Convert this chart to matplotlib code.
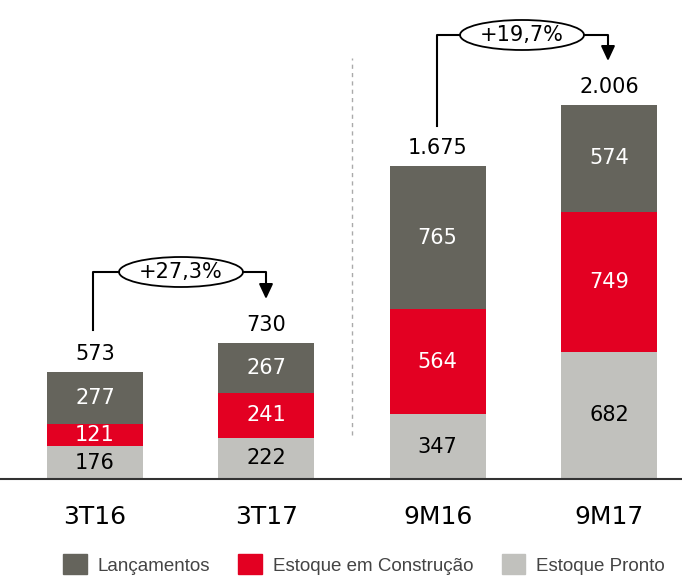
import matplotlib
matplotlib.use("Agg")
import matplotlib.pyplot as plt
from matplotlib.patches import Ellipse, Patch

categories = ["3T16", "3T17", "9M16", "9M17"]
estoque_pronto = [176, 222, 347, 682]
estoque_construcao = [121, 241, 564, 749]
lancamentos = [277, 267, 765, 574]
totals = ["573", "730", "1.675", "2.006"]
growth_labels = ["+27,3%", "+19,7%"]
series_names = ["Lançamentos", "Estoque em Construção", "Estoque Pronto"]

c_lanc = "#65645C"
c_const = "#E30022"
c_pronto = "#C1C1BD"

W, H = 682, 576
fig = plt.figure(figsize=(W / 100, H / 100), dpi=100)
base_px = 479
ax = fig.add_axes([0, (H - base_px) / H, 1, base_px / H])
px_per_unit = 0.1867
ax.set_ylim(0, base_px / px_per_unit)
spacing = 171.3
ax.set_xlim(-95 / spacing, (W - 95) / spacing)
ax.axis("off")

x = list(range(len(categories)))
bw = 0.56
ax.bar(x, estoque_pronto, bw, color=c_pronto, label=series_names[2])
ax.bar(x, estoque_construcao, bw, bottom=estoque_pronto, color=c_const, label=series_names[1])
bottom2 = [a + b for a, b in zip(estoque_pronto, estoque_construcao)]
ax.bar(x, lancamentos, bw, bottom=bottom2, color=c_lanc, label=series_names[0])

fs = 15
for i in x:
    p, c, l = estoque_pronto[i], estoque_construcao[i], lancamentos[i]
    ax.text(i, p / 2, str(p), ha="center", va="center", fontsize=fs, color="black")
    kw = {}
    if i == 0:
        kw = dict(bbox=dict(boxstyle="square,pad=0.05", fc=c_const, ec="none"))
    ax.text(i, p + c / 2, str(c), ha="center", va="center", fontsize=fs, color="white", **kw)
    ax.text(i, p + c + l / 2, str(l), ha="center", va="center", fontsize=fs, color="white")
    tot = p + c + l
    ax.text(i, tot + 18 / px_per_unit, totals[i], ha="center", va="center", fontsize=fs, color="black")
    ax.text(i, -38 / px_per_unit, categories[i], ha="center", va="center", fontsize=18, color="black",
            clip_on=False)

# baseline
ax.axhline(0, color="#333333", lw=1.5, clip_on=False)
# dashed separator
ax.plot([1.5, 1.5], [44 / px_per_unit, 421 / px_per_unit], ls=(0, (3, 3)), color="#AAAAAA", lw=1)

def to_y(py):
    return (base_px - py) / px_per_unit

def to_x(px):
    return (px - 95) / spacing

def bracket(x0px, y0px, ytop_px, x1px, yend_px, ecx, ew, eh, txt):
    yt = to_y(ytop_px)
    ax.plot([to_x(x0px), to_x(x0px), to_x(ecx - ew / 2)], [to_y(y0px), yt, yt], color="black", lw=1.5)
    ax.plot([to_x(ecx + ew / 2), to_x(x1px), to_x(x1px)], [yt, yt, to_y(yend_px - 12)], color="black", lw=1.5)
    ax.annotate("", xy=(to_x(x1px), to_y(yend_px)), xytext=(to_x(x1px), to_y(yend_px - 16)),
                arrowprops=dict(arrowstyle="-|>,head_length=0.9,head_width=0.42", color="black", lw=1.5,
                                shrinkA=0, shrinkB=0))
    e = Ellipse((to_x(ecx), yt), ew / spacing, eh / px_per_unit, fc="white", ec="black", lw=1.3)
    ax.add_patch(e)
    ax.text(to_x(ecx), yt, txt, ha="center", va="center", fontsize=fs, color="black")

bracket(93, 330, 272, 266, 299, 181, 124, 30, growth_labels[0])
bracket(437, 126, 35, 608, 61, 522, 124, 30, growth_labels[1])

handles = [Patch(color=c_lanc), Patch(color=c_const), Patch(color=c_pronto)]
leg = fig.legend(handles, series_names, loc="lower center", bbox_to_anchor=(0.534, -0.027), ncol=3,
                 frameon=False, handlelength=1.25, handleheight=1.25, columnspacing=1.5,
                 handletextpad=0.6, prop={"family": "Liberation Sans", "size": 13.5})
for t in leg.get_texts():
    t.set_color("#444444")

fig.savefig("out.png", dpi=100)
